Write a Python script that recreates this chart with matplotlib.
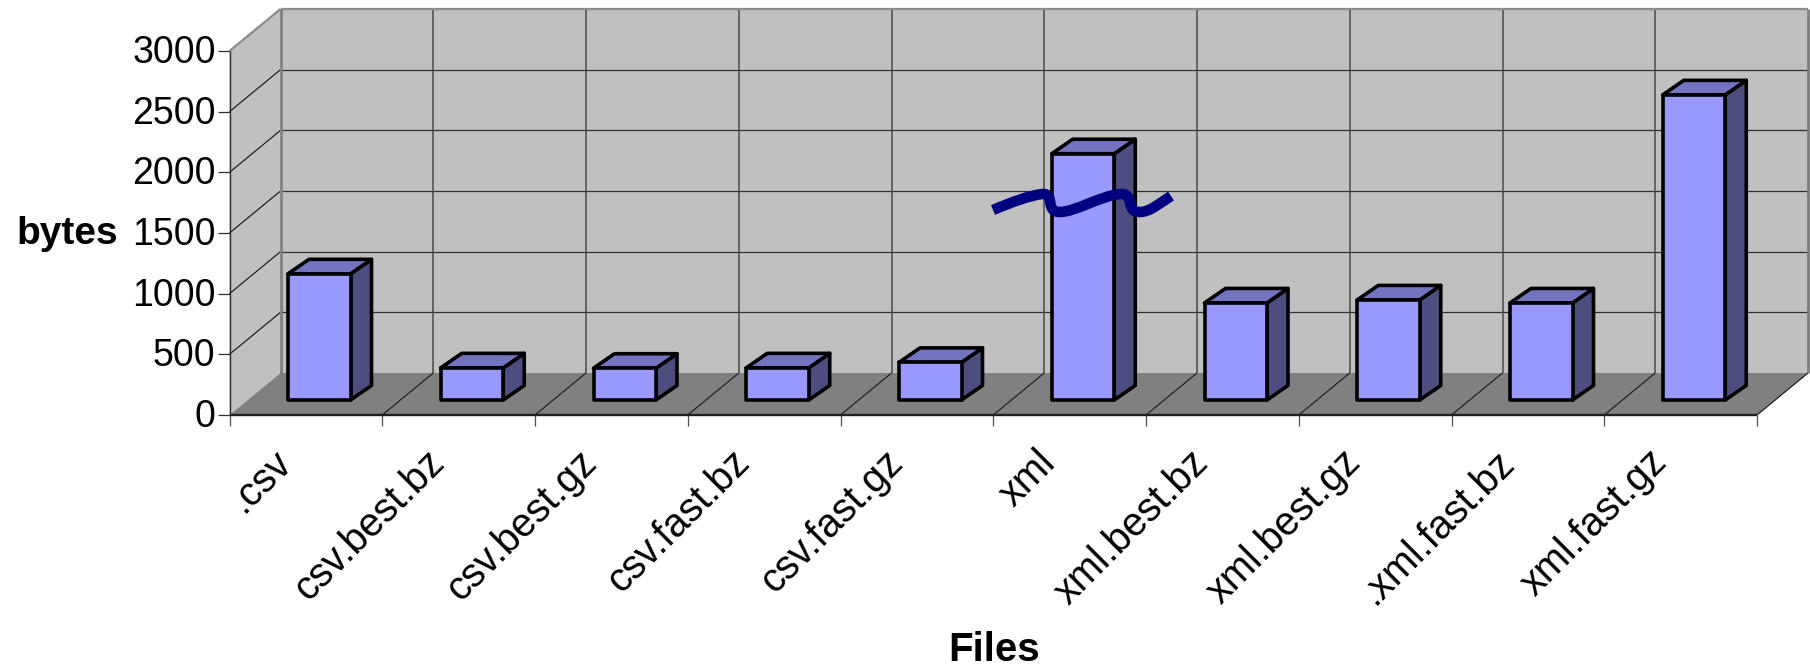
import matplotlib
matplotlib.use("Agg")
import matplotlib.pyplot as plt
from matplotlib.patches import Polygon, PathPatch
from matplotlib.path import Path
from matplotlib.transforms import ScaledTranslation

plt.rcParams['font.family'] = ['Liberation Sans', 'DejaVu Sans']

files = [".csv", "csv.best.bz", "csv.best.gz", "csv.fast.bz", "csv.fast.gz",
         "xml", "xml.best.bz", "xml.best.gz", ".xml.fast.bz", "xml.fast.gz"]
sizes = [1040, 265, 262, 265, 310, 2030, 800, 825, 800, 2515]
yticks = [0, 500, 1000, 1500, 2000, 2500, 3000]

W, H = 1810, 666
LEFT, RIGHT, BASE, TOP = 229.5, 1757, 415, 51
DEPTH_X, DEPTH_Y = 51, 42     # px shift from front plane to back wall
SIDE_X, SIDE_Y = 21, 14.5     # px shift of a bar's own depth

fig = plt.figure(figsize=(W / 100, H / 100), dpi=100)
ax = fig.add_axes([LEFT / W, 1 - BASE / H, (RIGHT - LEFT) / W, (BASE - TOP) / H])
ax.set_xlim(0, len(files))
ax.set_ylim(0, 3000)
ax.patch.set_visible(False)
for s in ax.spines.values():
    s.set_visible(False)

xpx = (RIGHT - LEFT) / len(files)
ypx = (BASE - TOP) / 3000


def shift(x, v, px_x, px_y):
    return x + px_x / xpx, v + px_y / ypx


def back(x, v, d=1.0):
    return shift(x, v, DEPTH_X * d, DEPTH_Y * d)


def poly(pts, **kw):
    kw.setdefault("clip_on", False)
    ax.add_patch(Polygon(pts, closed=True, **kw))


def line(a, b, color="#3c3c3c", lw=0.8, z=2):
    ax.plot([a[0], b[0]], [a[1], b[1]], color=color, lw=lw, zorder=z,
            clip_on=False, solid_capstyle="butt")


n = len(files)
# walls and floor
poly([back(0, 0), back(n, 0), back(n, 3000), back(0, 3000)], fc="#c0c0c0", ec="none", zorder=1)
poly([(0, 0), back(0, 0), back(0, 3000), (0, 3000)], fc="#c0c0c0", ec="none", zorder=1)
poly([(0, 0), (n, 0), back(n, 0), back(0, 0)], fc="#808080", ec="none", zorder=1)

# gridlines
for v in yticks[1:-1]:
    line((0, v), back(0, v), color="#101010")
    line(back(0, v), back(n, v), color="#303030", lw=0.9)
for i in range(1, n):
    line(back(i, 0), back(i, 3000), color="#484848", lw=1.1)
    line((i, 0), back(i, 0), color="#181818")

# wall borders
line(back(0, 3000), back(n, 3000), color="#8c8c8c", lw=1.6, z=3)
line((0, 3000), back(0, 3000), color="#8c8c8c", lw=1.6, z=3)
line(back(0, 0), back(0, 3000), color="#808080", lw=2.0, z=3)
line(back(n, 0), back(n, 3000), color="#808080", lw=2.0, z=3)
line((n, 0), back(n, 0), color="#101010", z=3)
line((0, 0), (0, 3000), color="#303030", lw=1.0, z=3)
line((0, 0), (n, 0), color="#202020", lw=1.7, z=3)

# bars
bar_w = 62.5 / xpx
off_x = 58.5 / xpx
off_v = 15 / ypx
for i, val in enumerate(sizes):
    x0 = i + off_x
    x1 = x0 + bar_w
    v0 = off_v
    v1 = off_v + val
    style = dict(ec="black", lw=2.6, joinstyle="round", zorder=5)
    poly([(x1, v0), shift(x1, v0, SIDE_X, SIDE_Y), shift(x1, v1, SIDE_X, SIDE_Y), (x1, v1)],
         fc="#4d4d80", **style)
    poly([(x0, v1), (x1, v1), shift(x1, v1, SIDE_X, SIDE_Y), shift(x0, v1, SIDE_X, SIDE_Y)],
         fc="#7373bf", **style)
    poly([(x0, v0), (x1, v0), (x1, v1), (x0, v1)], fc="#9999ff", **style)

# hand-drawn axis break across the xml bar
wave = [(993, 210), (1012, 202), (1028, 196), (1042, 194),
        (1056, 193), (1044, 212), (1060, 212),
        (1075, 212), (1100, 196), (1120, 194),
        (1136, 193), (1124, 212), (1140, 212),
        (1150, 212), (1160, 203), (1171, 196)]
codes = [Path.MOVETO] + [Path.CURVE4] * (len(wave) - 1)
wave_path = Path([(x, H - y) for x, y in wave], codes)
fig.add_artist(PathPatch(wave_path, fc="none", ec="#000080", lw=7.6, capstyle="butt",
                         transform=None, zorder=10))

# axes
ax.set_yticks(yticks)
ax.tick_params(axis="y", length=9, width=0.9, color="#303030", labelsize=27, pad=1)
up = ScaledTranslation(0, 1.5 / 72, fig.dpi_scale_trans)
for lab in ax.get_yticklabels():
    lab.set_transform(lab.get_transform() + up)
ax.set_xticks(range(n + 1))
ax.set_xticklabels([])
ax.tick_params(axis="x", which="major", length=8, width=0.9, color="#505050")
ax.set_xticks([i + 0.28 for i in range(n)], minor=True)
ax.set_xticklabels(files, minor=True, rotation=45, ha="right", va="top",
                   rotation_mode="anchor", fontsize=28.5)
ax.tick_params(axis="x", which="minor", length=0, pad=20)

fig.text(16 / W, 1 - 234 / H, "bytes", fontsize=28, fontweight="bold", ha="left", va="center")
fig.text(994 / W, 1 - 650 / H, "Files", fontsize=29, fontweight="bold", ha="center", va="center")

fig.savefig("out.png", dpi=100)
